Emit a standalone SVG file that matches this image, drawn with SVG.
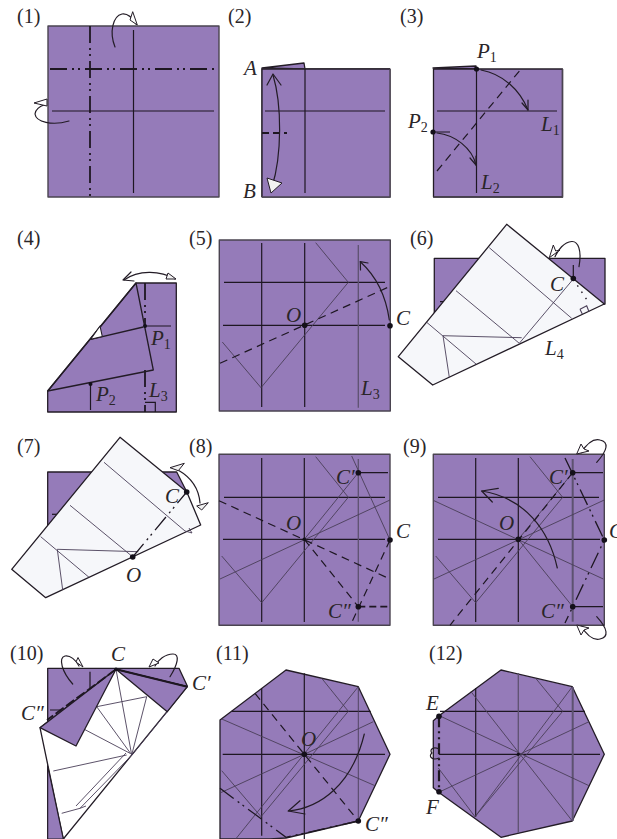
<svg xmlns="http://www.w3.org/2000/svg" width="617" height="839" viewBox="0 0 617 839">
<style>
text{font-family:"Liberation Serif","Times New Roman",serif;font-size:20px;fill:#2a2528}
.i{font-style:italic;font-size:21px}
.s{font-size:14px;font-style:normal}
.p{fill:#957bb9;stroke:#4a4450;stroke-width:1.4;stroke-linejoin:round}
.pb{fill:#957bb9;stroke:#231c26;stroke-width:1.3;stroke-linejoin:round}
.w{fill:#f6f7fa;stroke:#231c26;stroke-width:1.3;stroke-linejoin:round}
.wh{fill:#fff;stroke:#231c26;stroke-width:1.1;stroke-linejoin:round}
.g{fill:none;stroke:#1e1722;stroke-width:1.2}
.t{fill:none;stroke:#4a3e58;stroke-width:.9}
.lg{fill:none;stroke:#5d5270;stroke-width:1.3}
.th{fill:none;stroke:#5d5270;stroke-width:2}
.d{fill:none;stroke:#1e1722;stroke-width:1.2;stroke-dasharray:8 5.500}
.dk{fill:none;stroke:#1e1722;stroke-width:1.8;stroke-dasharray:7 4}
.m{fill:none;stroke:#1e1722;stroke-width:1.8;stroke-dasharray:17 5 2 4 2 5}
.a{fill:none;stroke:#231c26;stroke-width:1.2;stroke-linecap:round;stroke-linejoin:round}
.ah{fill:#f2f2f2;stroke:#231c26;stroke-width:1;stroke-linejoin:round}
.dot{fill:#14101a}
</style>
<rect width="617" height="839" fill="#fff"/>
<g id="step1">
<rect class="p" x="48" y="26" width="171" height="171"/>
<path class="g" d="M133.500 30V193M52 111H214"/>
<path class="m" d="M90 26V197M50 69H218"/>
<path class="a" d="M115 47C109 32 113 16 122 14C128 13 133 19 136 24"/>
<path class="ah" d="M130 20L132.700 11.700L137.300 25Z" style="fill:#fff"/>
<path class="a" d="M69 121C52 126 36 122 35 114C35 110 40 106 44 105"/>
<path class="ah" d="M47 99L34 103L47 106Z" style="fill:#fff"/>
<text x="17" y="23">(1)</text>
</g>
<g id="step2">
<path class="pb" d="M262 68L304 63L305 69Z"/>
<rect class="p" x="262" y="69" width="128" height="128"/>
<path class="pb" d="M262 69H390V197H262Z" style="stroke:none"/>
<path d="M262 197V69H305M305 69H390" fill="none" stroke="#231c26" stroke-width="1.3"/>
<path d="M390 69V197H262" fill="none" stroke="#4a4450" stroke-width="1.4"/>
<path class="g" d="M305 69V193M265 111H385"/>
<path class="dk" d="M262 133H287"/>
<path class="a" d="M273 75C282 105 282 155 272 187"/>
<path class="a" d="M267 85L273 74L281 85"/>
<path class="ah" d="M267 178L282 183L271 193Z"/>
<text class="i" x="244" y="75">A</text>
<text class="i" x="243" y="198">B</text>
<text x="228" y="23">(2)</text>
</g>
<g id="step3">
<path class="pb" d="M433 68L476 66V69Z"/>
<rect class="pb" x="433.500" y="69" width="129" height="128"/>
<path d="M562.500 69V197H433.500" fill="none" stroke="#4a4450" stroke-width="1.4"/>
<path class="g" d="M476.500 69V193M437 111H557M433 132H450"/>
<path class="d" d="M437 171L521 69"/>
<path class="a" d="M481 70C503 74 520 90 528 110"/>
<path class="a" d="M522 103L528 110L528 100"/>
<path class="a" d="M437 133C455 135 472 148 476 165"/>
<path class="a" d="M470 158L476 165L476 156"/>
<circle class="dot" cx="476.500" cy="69" r="2.600"/>
<circle class="dot" cx="433" cy="132" r="2.600"/>
<text class="i" x="477" y="58">P<tspan class="s" dy="4">1</tspan></text>
<text class="i" x="408" y="128">P<tspan class="s" dy="4">2</tspan></text>
<text class="i" x="541" y="131">L<tspan class="s" dy="4">1</tspan></text>
<text class="i" x="481" y="189">L<tspan class="s" dy="4">2</tspan></text>
<text x="400" y="23">(3)</text>
</g>
<g id="step4">
<path class="pb" d="M136 283H176.300V412H47.700V391Z"/>
<path class="m" d="M145 283V327M145 370V412"/>
<path class="g" d="M145 326H171M90.500 384V410M145 402.300H155.300V412"/>
<path class="pb" d="M136 283L153.300 370L47.700 391Z" style="fill:none"/>
<path class="pb" d="M90.700 339.300L143.300 327" style="fill:none"/>
<path class="wh" d="M90.700 339.300L100 326L102.300 336.500Z"/>
<circle class="dot" cx="145" cy="326" r="2"/>
<circle class="dot" cx="90.500" cy="384" r="2"/>
<path class="a" d="M124 280C138 270 160 270 175 279"/>
<path class="a" d="M131 272L123 280L134 281"/>
<path class="ah" d="M168 273L176 279L166 279Z"/>
<text class="i" x="151" y="345">P<tspan class="s" dy="4">1</tspan></text>
<text class="i" x="96" y="401">P<tspan class="s" dy="4">2</tspan></text>
<text class="i" x="149" y="397">L<tspan class="s" dy="4">3</tspan></text>
<text x="17" y="245">(4)</text>
</g>
<g id="step5">
<rect class="p" x="219.300" y="240" width="171" height="171"/>
<path class="g" d="M261.700 243V407M304.700 243V407M224 282.300H385M223 325.300H385"/>
<path class="lg" d="M358.300 245V407.700"/>
<path class="t" d="M315.700 242.700L348.300 282.300L261 387.700L222.300 342"/>
<path class="d" d="M220 363.300L389.300 286.700"/>
<path class="a" d="M389.300 320C386 296 376 276 360.300 261.700"/>
<path class="a" d="M360.500 270L360.300 261.700L368 263"/>
<circle class="dot" cx="304.700" cy="325.300" r="2.800"/>
<circle class="dot" cx="390" cy="325.700" r="2.800"/>
<text class="i" x="286" y="322">O</text>
<text class="i" x="396" y="325">C</text>
<text class="i" x="361" y="395">L<tspan class="s" dy="4">3</tspan></text>
<text x="189" y="245">(5)</text>
</g>
<g id="step6">
<path class="pb" d="M434.300 258.300H605V304L434.300 320Z"/>
<path class="g" d="M440 301.700H446M573.300 265V278"/>
<path class="w" d="M506.700 224.300L604.300 304L432.700 385L398.300 356.700Z"/>
<path class="t" d="M489.300 247.700L571.700 318.300M456 290.700L519.300 343.300M426.700 322.300L476 364M443 335.700L449.300 377.300M443 335.700L521.700 337.700M519.300 343.300L573.300 279"/>
<path class="g" d="M573.300 279L587 300" stroke-dasharray="1.500 6" style="stroke-width:1.400"/>
<path class="t" d="M580 309.300L586.700 305.700L589 311.700M580 309.300L582.300 314" style="stroke-width:1.100"/>
<path class="a" d="M579 266.700C582 250 578 241 571.700 241.500C564 242 558 250 555 256.700"/>
<path class="ah" d="M549.300 257.700L553.300 245L555.700 251L560 250Z" style="fill:#fff"/>
<circle class="dot" cx="573.300" cy="278.500" r="2.800"/>
<text class="i" x="550" y="291">C</text>
<text class="i" x="545" y="355">L<tspan class="s" dy="4">4</tspan></text>
<text x="410" y="245">(6)</text>
</g>
<g id="step7">
<path class="pb" d="M47.700 472H176.700L186.700 491.700L47.700 540Z"/>
<path class="g" d="M52 514.300H60"/>
<path class="w" d="M120 437.300L186.700 491.700L200.700 525L45.700 597.700L11.700 569.300Z"/>
<path class="t" d="M104 462.300L185 531M70 505.300L131.700 556M40.700 536.700L89 577.300M57.300 549.300L62.700 590M57.300 549.300L138.300 551.700"/>
<path class="t" d="M185 531L192 533L189 528"/>
<path class="m" d="M132.700 557L186.700 492" style="stroke-width:1.300"/>
<path class="a" d="M178 470C192 478 199 490 200 503"/>
<path class="ah" d="M170 467.700L184.300 463.300L178.300 470.700Z"/>
<path class="ah" d="M196.700 506L208.300 502.700L201.700 510Z"/>
<circle class="dot" cx="186.700" cy="492" r="2.800"/>
<circle class="dot" cx="132.700" cy="557" r="2.800"/>
<text class="i" x="165" y="503">C</text>
<text class="i" x="126" y="582">O</text>
<text x="17" y="453">(7)</text>
</g>
<g id="step8">
<rect class="p" x="219" y="454.300" width="171" height="171"/>
<path class="g" d="M261.700 458V622M304.300 458V622M224 497.300H385M223 539.300H385M358.300 472.700H388"/>
<path class="lg" d="M358.300 459V621.700"/>
<path class="t" d="M315.700 456.700L348.300 497.300L261.700 602.700L221.700 556M358.300 472.700L304.300 539.300M390 500L220 579M351.700 456L390 540"/>
<path class="d" d="M219 500.700L390 579M304.300 539.300L358.300 606.700M390 540L351 624"/>
<path class="dk" d="M358.300 606.700H389"/>
<circle class="dot" cx="304.300" cy="539.300" r="1.800"/>
<circle class="dot" cx="358.300" cy="472.700" r="2.800"/>
<circle class="dot" cx="358.300" cy="606.700" r="2.800"/>
<circle class="dot" cx="390" cy="540" r="2.800"/>
<text class="i" x="336" y="484">C′</text>
<text class="i" x="328" y="618">C″</text>
<text class="i" x="286" y="530">O</text>
<text class="i" x="396" y="538">C</text>
<text x="189" y="453">(8)</text>
</g>
<g id="step9">
<rect class="p" x="433.300" y="454.300" width="171" height="171"/>
<path class="g" d="M475.700 458V622M518.300 458V622M438 497.300H599M438 539.300H600M572.700 472.700H603M572.700 606.700H603"/>
<path class="th" d="M572.700 459V621.700"/>
<path class="t" d="M530 456.700L562.700 497.300L475.700 602.700L435.700 556M572.700 472.700L518.300 539.300L572.700 606.700M604.300 500L434 579M434 500.700L603.300 579"/>
<path class="d" d="M572.700 472.700L450 625.300"/>
<path class="m" d="M565 458L604.300 540L565 623" style="stroke-width:1.300"/>
<path class="a" d="M557.300 568C549 530 525 498 481.700 491"/>
<path class="a" d="M498.300 488.300L481.700 491L492.300 502"/>
<path class="a" d="M596.700 462.300C608 450 609 442 600 440C592 438 586 445 581 453"/>
<path class="ah" d="M576.700 454L581 444L584 449L589 451Z" style="fill:#fff"/>
<path class="a" d="M596.700 616.700C608 629 609 637 600 639C592 641 586 634 581 626"/>
<path class="ah" d="M576.700 625L581 635L584 630L589 628Z" style="fill:#fff"/>
<circle class="dot" cx="518.300" cy="539.300" r="2.800"/>
<circle class="dot" cx="572.700" cy="472.700" r="2.800"/>
<circle class="dot" cx="572.700" cy="606.700" r="2.800"/>
<circle class="dot" cx="604.300" cy="540" r="2.800"/>
<text class="i" x="549" y="484">C′</text>
<text class="i" x="541" y="618">C″</text>
<text class="i" x="499" y="530">O</text>
<text class="i" x="609" y="538">C</text>
<text x="403" y="453">(9)</text>
</g>
<g id="step10">
<path class="pb" d="M47.700 668.300H179L187.300 686L116 760L63.300 839H47.700Z"/>
<path class="g" d="M90 671.700V688M50 710H61.700"/>
<path class="pb" d="M116 669.300L187.300 686.700L63.300 839L40 727.700Z" style="fill:#fff"/>
<path class="t" d="M53.300 771L126.700 755M96.700 706.700L146.700 696.700M116 669.300L131.700 755M84.300 729.300L130 753.300M96.700 706.700L131 754M146.700 696.700L131.700 755M167.300 711.700L132 755M132 755L80 808.300M126 753L76 806M61.700 813.300L80 808.300L86 806"/>
<path class="pb" d="M116 669.300L187.300 686.700L167.300 711.700Z"/>
<path class="pb" d="M116 669.300L40 727.700L76 746Z"/>
<path d="M47.700 766L63.300 839H47.700Z" fill="#957bb9" stroke="#231c26" stroke-width="1.100"/>
<path d="M116 669.300L187.300 686.700" fill="none" stroke="#1e1722" stroke-width="2.200"/>
<path d="M116 669.300L47 720" fill="none" stroke="#1e1722" stroke-width="1.800" stroke-dasharray="10 3"/>
<circle class="dot" cx="116" cy="669.300" r="1.800"/>
<path class="a" d="M72.700 684C62 672 58 658 65 656C70 655 76 660 79 666"/>
<path class="ah" d="M76 662L78 657.500L83 667Z" style="fill:#fff"/>
<path class="a" d="M170 676.700C178 664 180 654 173 654C165 654 158 660 155 666"/>
<path class="ah" d="M149 667L153 659L159 663Z" style="fill:#fff"/>
<text class="i" x="111" y="661">C</text>
<text class="i" x="192" y="690">C′</text>
<text class="i" x="21" y="720">C″</text>
<text x="10" y="660">(10)</text>
</g>
<g id="step11">
<path class="pb" d="M286 670L358.300 686.700L390 754.300L358.300 821L286 838L270 839H220V720Z"/>
<path class="g" d="M261.700 688.300V835.700M304.300 673.300V839M231.700 711.300H370.700M222.700 754.300H385"/>
<path class="t" d="M358.300 686.700V821M321.700 678.300L348.300 711.300L261 816.700L221.700 770.700M358.300 686.700L235.700 839M304.300 754.300L373.300 721.700M304.300 754.300L220 793M221.700 719L375 785.700"/>
<path class="d" d="M255 693.300L358.300 821"/>
<path class="m" d="M220 788.300L286 837.300L358.300 821" style="stroke-width:1.300"/>
<path class="a" d="M364.300 734C352 785 320 808 288.300 811"/>
<path class="a" d="M300 800.700L288.300 811L305 814"/>
<circle class="dot" cx="304.300" cy="754.300" r="2.800"/>
<circle class="dot" cx="358.300" cy="821" r="2.800"/>
<text class="i" x="301" y="746">O</text>
<text class="i" x="365" y="831">C″</text>
<text x="216" y="660">(11)</text>
</g>
<g id="step12">
<path class="pb" d="M501 670L572.300 686.700L604.300 754.300L572.300 821L501 837.300L440 793.300L433.300 787.700V720.700L440 715Z"/>
<path class="g" d="M440 711.300H585M439 754.300H600M475.700 688V816.700"/>
<path class="lg" d="M518.300 673V833"/>
<path class="th" d="M572.700 687V821"/>
<path class="t" d="M535.700 678.300L562.700 711.300L475 816.700L438.300 768M572.300 686.700L475 816.700M572.300 821L471 691.700M440 716L589 785.700M440 791.700L589 721.700"/>
<path class="m" d="M439 716.300V791.700" style="stroke-width:2.200;stroke-dasharray:11 4 2 4 2 4"/>
<path class="a" d="M439 749C433 746 429 750 432 753C428 756 432 761 439 758"/>
<circle class="dot" cx="518.300" cy="754.300" r="1.600"/>
<circle class="dot" cx="439" cy="716.300" r="2.800"/>
<circle class="dot" cx="439" cy="791.700" r="2.800"/>
<text class="i" x="426" y="710">E</text>
<text class="i" x="426" y="814">F</text>
<text x="429" y="660">(12)</text>
</g>
</svg>
